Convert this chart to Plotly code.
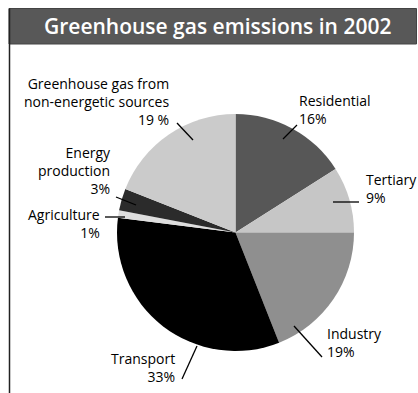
import plotly.graph_objects as go

# Greenhouse gas emissions by sector, 2002 (percent of total)
sectors = ["Residential", "Tertiary", "Industry", "Transport",
           "Agriculture", "Energy production",
           "Greenhouse gas from non-energetic sources"]
shares = [16, 9, 19, 33, 1, 3, 19]
slice_colors = ["#575757", "#c6c6c6", "#8f8f8f", "#000000",
                "#dedede", "#2b2b2b", "#cbcbcb"]

# how each sector name is broken over lines in its label
name_lines = {
    "Residential": "Residential",
    "Tertiary": "Tertiary",
    "Industry": "Industry",
    "Transport": "Transport",
    "Agriculture": "Agriculture",
    "Energy production": "Energy<br>production",
    "Greenhouse gas from non-energetic sources":
        "Greenhouse gas from<br>non-energetic sources",
}
pct_sep = {"Greenhouse gas from non-energetic sources": " "}

W, H = 418, 393
FONT = "Open Sans"
INK = "#000000"


def px(x, y):
    """pixel position -> paper coordinates"""
    return x / W, 1 - y / H


fig = go.Figure()

cx, cy, R = 235.5, 232.5, 118.5
x0, y1 = px(cx - R, cy - R)
x1, y0 = px(cx + R, cy + R)

fig.add_trace(go.Pie(
    labels=sectors,
    values=shares,
    sort=False,
    direction="clockwise",
    rotation=0,
    marker=dict(colors=slice_colors, line=dict(width=0)),
    textinfo="none",
    hoverinfo="label+percent",
    showlegend=False,
    domain=dict(x=[x0, x1], y=[y0, y1]),
))

# label layout: text block anchor (x, centre y, side) and leader line
label_layout = {
    "Residential": dict(text=(297, 110, "left"),
                        line=((283, 139), (297, 125))),
    "Tertiary": dict(text=(364, 188.5, "left"),
                     line=((333, 202), (359, 202))),
    "Industry": dict(text=(325, 342, "left"),
                     line=((294, 326), (322, 357))),
    "Transport": dict(text=(177, 367, "right"),
                      line=((197, 346), (182, 379))),
    "Agriculture": dict(text=(102, 223, "right"),
                        line=((105, 217), (125, 217))),
    "Energy production": dict(text=(113, 170, "right"),
                              line=((116, 197), (136, 205))),
    "Greenhouse gas from non-energetic sources":
        dict(text=(171, 101, "right"),
             line=((177, 123), (193, 140))),
}

shapes = []
annotations = []
for sec, val in zip(sectors, shares):
    lay = label_layout[sec]
    nx, ny, al = lay["text"]
    ax_, ay_ = px(nx, ny)
    annotations.append(dict(
        x=ax_, y=ay_, xref="paper", yref="paper",
        text=f"{name_lines[sec]}<br>{val}{pct_sep.get(sec, '')}%",
        showarrow=False, xanchor=al, yanchor="middle", align=al,
        font=dict(family=FONT, size=14, color=INK)))
    (lx0, ly0), (lx1, ly1) = lay["line"]
    p0, p1 = px(lx0, ly0), px(lx1, ly1)
    shapes.append(dict(type="line", xref="paper", yref="paper",
                       x0=p0[0], y0=p0[1], x1=p1[0], y1=p1[1],
                       line=dict(color=INK, width=1.3)))

# title bar and frame
bx0, by1 = px(9, 8.5)
bx1, by0 = px(416.5, 44)
shapes.append(dict(type="rect", xref="paper", yref="paper",
                   x0=bx0, x1=bx1, y0=by0, y1=by1,
                   fillcolor="#585858", line=dict(color="#444444", width=1),
                   layer="below"))
fx, fy0 = px(9.5, 393)
_, fy1 = px(9.5, 8.5)
shapes.append(dict(type="line", xref="paper", yref="paper",
                   x0=fx, x1=fx, y0=fy0, y1=fy1,
                   line=dict(color="#222222", width=1.5)))

tx, ty = px(217.5, 26)
annotations.append(dict(
    x=tx, y=ty, xref="paper", yref="paper",
    text="Greenhouse gas emissions in 2002", showarrow=False,
    xanchor="center", yanchor="middle",
    font=dict(family=FONT, size=21, color="white", weight=600)))

fig.update_layout(
    width=W, height=H,
    margin=dict(l=0, r=0, t=0, b=0),
    paper_bgcolor="white",
    plot_bgcolor="white",
    shapes=shapes,
    annotations=annotations,
)

fig.write_html("out.html")
